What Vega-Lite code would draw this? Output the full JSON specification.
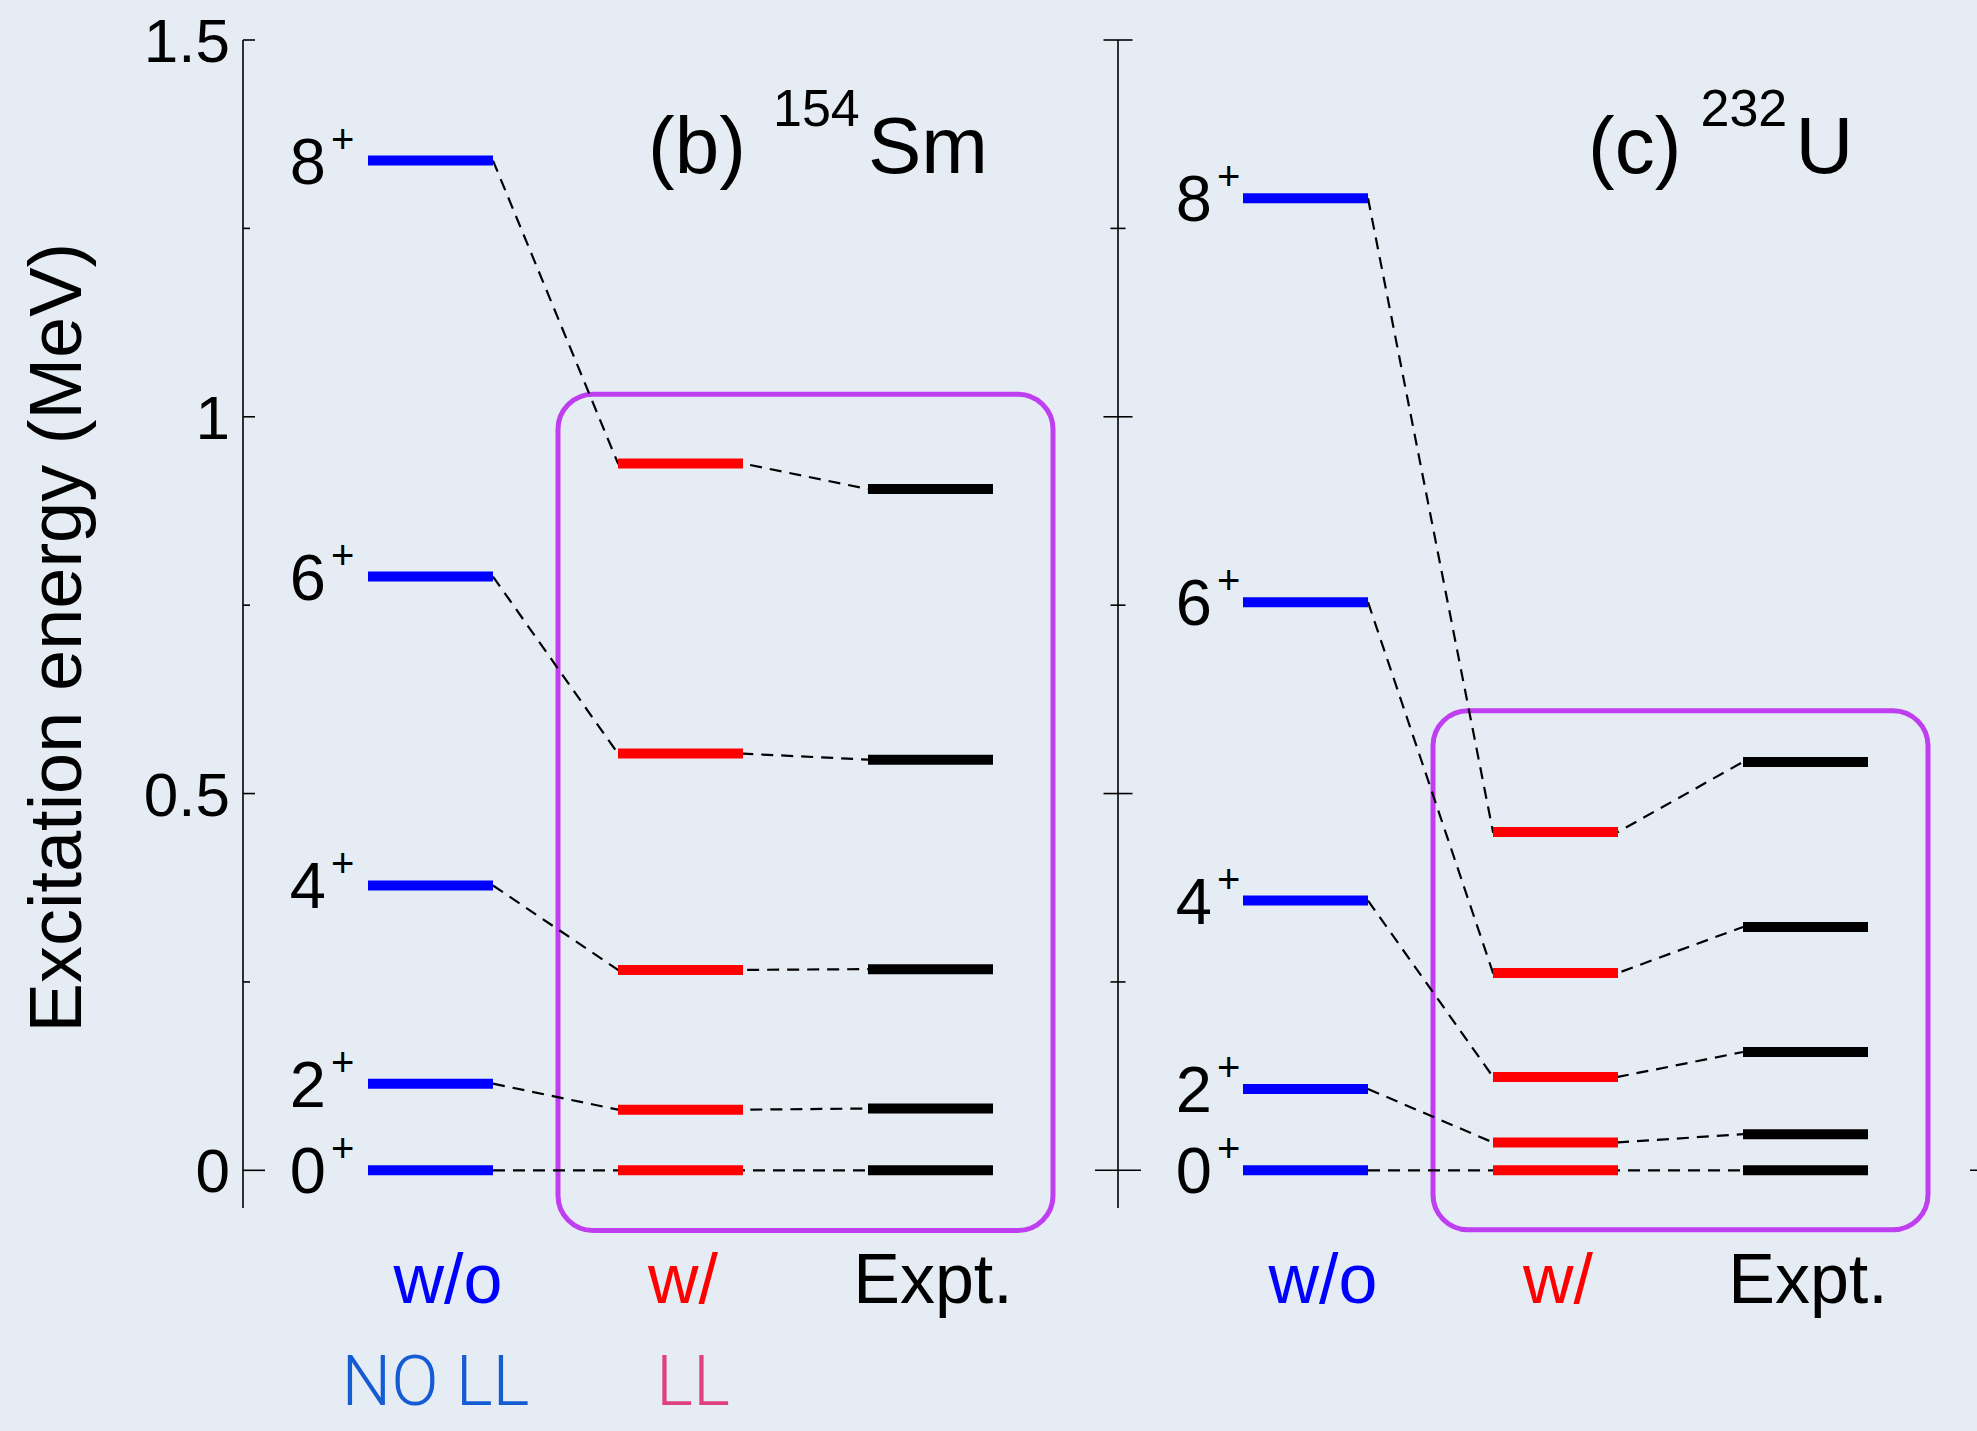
{
  "$schema": "https://vega.github.io/schema/vega-lite/v6.json",
  "width": 1734,
  "height": 1168,
  "autosize": {"type": "none"},
  "padding": {"left": 243, "top": 40, "right": 0, "bottom": 223},
  "background": "#e5ecf4",
  "config": {
    "view": {"stroke": null},
    "text": {"font": "Liberation Sans", "color": "#000000"}
  },
  "datasets": {
    "levels": [
      {"panel": "b", "method": "w/o", "J": 0, "E": 0},
      {"panel": "b", "method": "w/o", "J": 2, "E": 0.115},
      {"panel": "b", "method": "w/o", "J": 4, "E": 0.378},
      {"panel": "b", "method": "w/o", "J": 6, "E": 0.788},
      {"panel": "b", "method": "w/o", "J": 8, "E": 1.340},
      {"panel": "b", "method": "w/", "J": 0, "E": 0},
      {"panel": "b", "method": "w/", "J": 2, "E": 0.0805},
      {"panel": "b", "method": "w/", "J": 4, "E": 0.266},
      {"panel": "b", "method": "w/", "J": 6, "E": 0.553},
      {"panel": "b", "method": "w/", "J": 8, "E": 0.938},
      {"panel": "b", "method": "Expt.", "J": 0, "E": 0},
      {"panel": "b", "method": "Expt.", "J": 2, "E": 0.082},
      {"panel": "b", "method": "Expt.", "J": 4, "E": 0.267},
      {"panel": "b", "method": "Expt.", "J": 6, "E": 0.545},
      {"panel": "b", "method": "Expt.", "J": 8, "E": 0.904},
      {"panel": "c", "method": "w/o", "J": 0, "E": 0},
      {"panel": "c", "method": "w/o", "J": 2, "E": 0.108},
      {"panel": "c", "method": "w/o", "J": 4, "E": 0.358},
      {"panel": "c", "method": "w/o", "J": 6, "E": 0.754},
      {"panel": "c", "method": "w/o", "J": 8, "E": 1.290},
      {"panel": "c", "method": "w/", "J": 0, "E": 0},
      {"panel": "c", "method": "w/", "J": 2, "E": 0.037},
      {"panel": "c", "method": "w/", "J": 4, "E": 0.124},
      {"panel": "c", "method": "w/", "J": 6, "E": 0.262},
      {"panel": "c", "method": "w/", "J": 8, "E": 0.449},
      {"panel": "c", "method": "Expt.", "J": 0, "E": 0},
      {"panel": "c", "method": "Expt.", "J": 2, "E": 0.048},
      {"panel": "c", "method": "Expt.", "J": 4, "E": 0.157},
      {"panel": "c", "method": "Expt.", "J": 6, "E": 0.323},
      {"panel": "c", "method": "Expt.", "J": 8, "E": 0.542}
    ],
    "boxes": [
      {"panel": "b", "top": 1.03, "bottom": -0.08},
      {"panel": "c", "top": 0.61, "bottom": -0.079}
    ],
    "ticks": [
      {"axis": "b", "E": 0, "kind": "zero"},
      {"axis": "b", "E": 0.25, "kind": "minor"},
      {"axis": "b", "E": 0.5, "kind": "major"},
      {"axis": "b", "E": 0.75, "kind": "minor"},
      {"axis": "b", "E": 1.0, "kind": "major"},
      {"axis": "b", "E": 1.25, "kind": "minor"},
      {"axis": "b", "E": 1.5, "kind": "major"},
      {"axis": "c", "E": 0, "kind": "zero"},
      {"axis": "c", "E": 0.25, "kind": "minor"},
      {"axis": "c", "E": 0.5, "kind": "major"},
      {"axis": "c", "E": 0.75, "kind": "minor"},
      {"axis": "c", "E": 1.0, "kind": "major"},
      {"axis": "c", "E": 1.25, "kind": "minor"},
      {"axis": "c", "E": 1.5, "kind": "major"},
      {"axis": "d", "E": 0, "kind": "zero"}
    ],
    "axes": [
      {"axis": "b"},
      {"axis": "c"}
    ],
    "one": [{}]
  },
  "layer": [
    {
      "data": {"name": "boxes"},
      "transform": [
        {"calculate": "(datum.panel=='c'?3.5:0)+1.26", "as": "bx1"},
        {"calculate": "(datum.panel=='c'?3.5:0)+3.24", "as": "bx2"}
      ],
      "mark": {"type": "rect", "cornerRadius": 35, "fill": "transparent", "stroke": "#bf3ff0", "strokeWidth": 5},
      "encoding": {
        "x": {"field": "bx1", "type": "quantitative", "scale": {"domain": [0, 6.936], "nice": false, "zero": false}, "axis": null},
        "x2": {"field": "bx2"},
        "y": {"field": "top", "type": "quantitative", "scale": {"domain": [-0.05, 1.5], "nice": false, "zero": false}, "axis": null},
        "y2": {"field": "bottom"}
      }
    },
    {
      "data": {"name": "ticks"},
      "transform": [
        {"calculate": "datum.axis=='b'?0:(datum.axis=='c'?3.5:7.0)", "as": "ax"},
        {"calculate": "datum.kind=='zero'?(datum.axis=='b'?0.088:0.092):(datum.kind=='major'?(datum.axis=='b'?0.048:0.058):(datum.axis=='b'?0.028:0.03))", "as": "L"},
        {"calculate": "datum.axis=='b'?datum.ax:datum.ax-datum.L", "as": "tx1"},
        {"calculate": "datum.ax+datum.L", "as": "tx2"}
      ],
      "mark": {"type": "rule", "color": "#000000", "strokeWidth": 1.6},
      "encoding": {
        "x": {"field": "tx1", "type": "quantitative", "scale": {"domain": [0, 6.936], "nice": false, "zero": false}, "axis": null},
        "x2": {"field": "tx2"},
        "y": {"field": "E", "type": "quantitative", "scale": {"domain": [-0.05, 1.5], "nice": false, "zero": false}, "axis": null}
      }
    },
    {
      "data": {"name": "axes"},
      "transform": [
        {"calculate": "datum.axis=='c'?3.5:0", "as": "ax"}
      ],
      "mark": {"type": "rule", "color": "#000000", "strokeWidth": 1.6},
      "encoding": {
        "x": {"field": "ax", "type": "quantitative", "scale": {"domain": [0, 6.936], "nice": false, "zero": false}, "axis": null},
        "y": {"datum": -0.05, "type": "quantitative", "scale": {"domain": [-0.05, 1.5], "nice": false, "zero": false}, "axis": null},
        "y2": {"datum": 1.5}
      }
    },
    {
      "data": {"name": "ticks"},
      "transform": [
        {"filter": "datum.axis=='b' && datum.kind!='minor'"},
        {"calculate": "datum.E + ''", "as": "lab"}
      ],
      "mark": {"type": "text", "align": "right", "baseline": "alphabetic", "dx": -13, "dy": 22, "fontSize": 62, "font": "Liberation Sans"},
      "encoding": {
        "x": {"datum": 0, "type": "quantitative", "scale": {"domain": [0, 6.936], "nice": false, "zero": false}, "axis": null},
        "y": {"field": "E", "type": "quantitative", "scale": {"domain": [-0.05, 1.5], "nice": false, "zero": false}, "axis": null},
        "text": {"field": "lab"}
      }
    },
    {
      "data": {"name": "one"},
      "mark": {"type": "text", "align": "center", "baseline": "alphabetic", "angle": 270, "fontSize": 74, "font": "Liberation Sans", "text": "Excitation energy (MeV)"},
      "encoding": {
        "x": {"datum": -0.648, "type": "quantitative", "scale": {"domain": [0, 6.936], "nice": false, "zero": false}, "axis": null},
        "y": {"datum": 0.707, "type": "quantitative", "scale": {"domain": [-0.05, 1.5], "nice": false, "zero": false}, "axis": null}
      }
    },
    {
      "data": {"name": "levels"},
      "transform": [
        {"calculate": "(datum.panel=='c'?3.5:0)+indexof(['w/o','w/','Expt.'],datum.method)+0.5", "as": "xs"},
        {"calculate": "datum.xs+0.5", "as": "xe"},
        {"fold": ["xs", "xe"], "as": ["end", "xpos"]},
        {"filter": "!(datum.method=='w/o' && datum.end=='xs') && !(datum.method=='Expt.' && datum.end=='xe')"}
      ],
      "mark": {"type": "line", "color": "#000000", "strokeWidth": 2.2, "strokeDash": [12, 8]},
      "encoding": {
        "x": {"field": "xpos", "type": "quantitative", "scale": {"domain": [0, 6.936], "nice": false, "zero": false}, "axis": null},
        "y": {"field": "E", "type": "quantitative", "scale": {"domain": [-0.05, 1.5], "nice": false, "zero": false}, "axis": null},
        "detail": [{"field": "panel"}, {"field": "J"}],
        "order": {"field": "xpos", "type": "quantitative"}
      }
    },
    {
      "data": {"name": "levels"},
      "transform": [
        {"calculate": "(datum.panel=='c'?3.5:0)+indexof(['w/o','w/','Expt.'],datum.method)+0.5", "as": "xs"},
        {"calculate": "datum.xs+0.5", "as": "xe"}
      ],
      "mark": {"type": "rule", "strokeWidth": 10, "strokeCap": "butt"},
      "encoding": {
        "x": {"field": "xs", "type": "quantitative", "scale": {"domain": [0, 6.936], "nice": false, "zero": false}, "axis": null},
        "x2": {"field": "xe"},
        "y": {"field": "E", "type": "quantitative", "scale": {"domain": [-0.05, 1.5], "nice": false, "zero": false}, "axis": null},
        "color": {"field": "method", "type": "nominal", "scale": {"domain": ["w/o", "w/", "Expt."], "range": ["#0000ff", "#ff0000", "#000000"]}, "legend": null}
      }
    },
    {
      "data": {"name": "levels"},
      "transform": [
        {"filter": "datum.method=='w/o'"},
        {"calculate": "(datum.panel=='c'?3.5:0)+0.5-(datum.panel=='b'?0.168:0.124)", "as": "xl"}
      ],
      "mark": {"type": "text", "align": "right", "baseline": "alphabetic", "dy": 23, "fontSize": 65, "font": "Liberation Sans"},
      "encoding": {
        "x": {"field": "xl", "type": "quantitative", "scale": {"domain": [0, 6.936], "nice": false, "zero": false}, "axis": null},
        "y": {"field": "E", "type": "quantitative", "scale": {"domain": [-0.05, 1.5], "nice": false, "zero": false}, "axis": null},
        "text": {"field": "J"}
      }
    },
    {
      "data": {"name": "levels"},
      "transform": [
        {"filter": "datum.method=='w/o'"},
        {"calculate": "(datum.panel=='c'?3.5:0)+0.5-(datum.panel=='b'?0.168:0.124)", "as": "xl"}
      ],
      "mark": {"type": "text", "align": "left", "baseline": "alphabetic", "dx": 5, "dy": -8, "fontSize": 40, "font": "Liberation Sans", "text": "+"},
      "encoding": {
        "x": {"field": "xl", "type": "quantitative", "scale": {"domain": [0, 6.936], "nice": false, "zero": false}, "axis": null},
        "y": {"field": "E", "type": "quantitative", "scale": {"domain": [-0.05, 1.5], "nice": false, "zero": false}, "axis": null}
      }
    },
    {
      "data": {"name": "levels"},
      "transform": [
        {"filter": "datum.J==0"},
        {"calculate": "(datum.panel=='c'?3.5:0)+indexof(['w/o','w/','Expt.'],datum.method)+0.75+(datum.method=='w/o'?0.07:0.01)", "as": "xc"}
      ],
      "mark": {"type": "text", "align": "center", "baseline": "alphabetic", "fontSize": 70, "font": "Liberation Sans"},
      "encoding": {
        "x": {"field": "xc", "type": "quantitative", "scale": {"domain": [0, 6.936], "nice": false, "zero": false}, "axis": null},
        "y": {"datum": -0.1755, "type": "quantitative", "scale": {"domain": [-0.05, 1.5], "nice": false, "zero": false}, "axis": null},
        "text": {"field": "method"},
        "color": {"field": "method", "type": "nominal", "scale": {"domain": ["w/o", "w/", "Expt."], "range": ["#0000ff", "#ff0000", "#000000"]}, "legend": null}
      }
    },
    {
      "data": {"name": "one"},
      "mark": {"type": "text", "align": "center", "baseline": "alphabetic", "fontSize": 70, "font": "Roboto", "fontWeight": 300, "color": "#155bd3", "text": "NO LL"},
      "encoding": {
        "x": {"datum": 0.77, "type": "quantitative", "scale": {"domain": [0, 6.936], "nice": false, "zero": false}, "axis": null},
        "y": {"datum": -0.312, "type": "quantitative", "scale": {"domain": [-0.05, 1.5], "nice": false, "zero": false}, "axis": null}
      }
    },
    {
      "data": {"name": "one"},
      "mark": {"type": "text", "align": "center", "baseline": "alphabetic", "fontSize": 70, "font": "Roboto", "fontWeight": 300, "color": "#e0417d", "text": "LL"},
      "encoding": {
        "x": {"datum": 1.8, "type": "quantitative", "scale": {"domain": [0, 6.936], "nice": false, "zero": false}, "axis": null},
        "y": {"datum": -0.312, "type": "quantitative", "scale": {"domain": [-0.05, 1.5], "nice": false, "zero": false}, "axis": null}
      }
    },
    {
      "data": {"name": "one"},
      "mark": {"type": "text", "align": "left", "baseline": "alphabetic", "fontSize": 80, "font": "Liberation Sans", "text": "(b)"},
      "encoding": {
        "x": {"datum": 1.62, "type": "quantitative", "scale": {"domain": [0, 6.936], "nice": false, "zero": false}, "axis": null},
        "y": {"datum": 1.323, "type": "quantitative", "scale": {"domain": [-0.05, 1.5], "nice": false, "zero": false}, "axis": null}
      }
    },
    {
      "data": {"name": "one"},
      "mark": {"type": "text", "align": "left", "baseline": "alphabetic", "fontSize": 52, "font": "Liberation Sans", "text": "154"},
      "encoding": {
        "x": {"datum": 2.12, "type": "quantitative", "scale": {"domain": [0, 6.936], "nice": false, "zero": false}, "axis": null},
        "y": {"datum": 1.386, "type": "quantitative", "scale": {"domain": [-0.05, 1.5], "nice": false, "zero": false}, "axis": null}
      }
    },
    {
      "data": {"name": "one"},
      "mark": {"type": "text", "align": "left", "baseline": "alphabetic", "fontSize": 80, "font": "Liberation Sans", "text": "Sm"},
      "encoding": {
        "x": {"datum": 2.5, "type": "quantitative", "scale": {"domain": [0, 6.936], "nice": false, "zero": false}, "axis": null},
        "y": {"datum": 1.323, "type": "quantitative", "scale": {"domain": [-0.05, 1.5], "nice": false, "zero": false}, "axis": null}
      }
    },
    {
      "data": {"name": "one"},
      "mark": {"type": "text", "align": "left", "baseline": "alphabetic", "fontSize": 80, "font": "Liberation Sans", "text": "(c)"},
      "encoding": {
        "x": {"datum": 5.38, "type": "quantitative", "scale": {"domain": [0, 6.936], "nice": false, "zero": false}, "axis": null},
        "y": {"datum": 1.323, "type": "quantitative", "scale": {"domain": [-0.05, 1.5], "nice": false, "zero": false}, "axis": null}
      }
    },
    {
      "data": {"name": "one"},
      "mark": {"type": "text", "align": "left", "baseline": "alphabetic", "fontSize": 52, "font": "Liberation Sans", "text": "232"},
      "encoding": {
        "x": {"datum": 5.83, "type": "quantitative", "scale": {"domain": [0, 6.936], "nice": false, "zero": false}, "axis": null},
        "y": {"datum": 1.386, "type": "quantitative", "scale": {"domain": [-0.05, 1.5], "nice": false, "zero": false}, "axis": null}
      }
    },
    {
      "data": {"name": "one"},
      "mark": {"type": "text", "align": "left", "baseline": "alphabetic", "fontSize": 80, "font": "Liberation Sans", "text": "U"},
      "encoding": {
        "x": {"datum": 6.21, "type": "quantitative", "scale": {"domain": [0, 6.936], "nice": false, "zero": false}, "axis": null},
        "y": {"datum": 1.323, "type": "quantitative", "scale": {"domain": [-0.05, 1.5], "nice": false, "zero": false}, "axis": null}
      }
    }
  ]
}
